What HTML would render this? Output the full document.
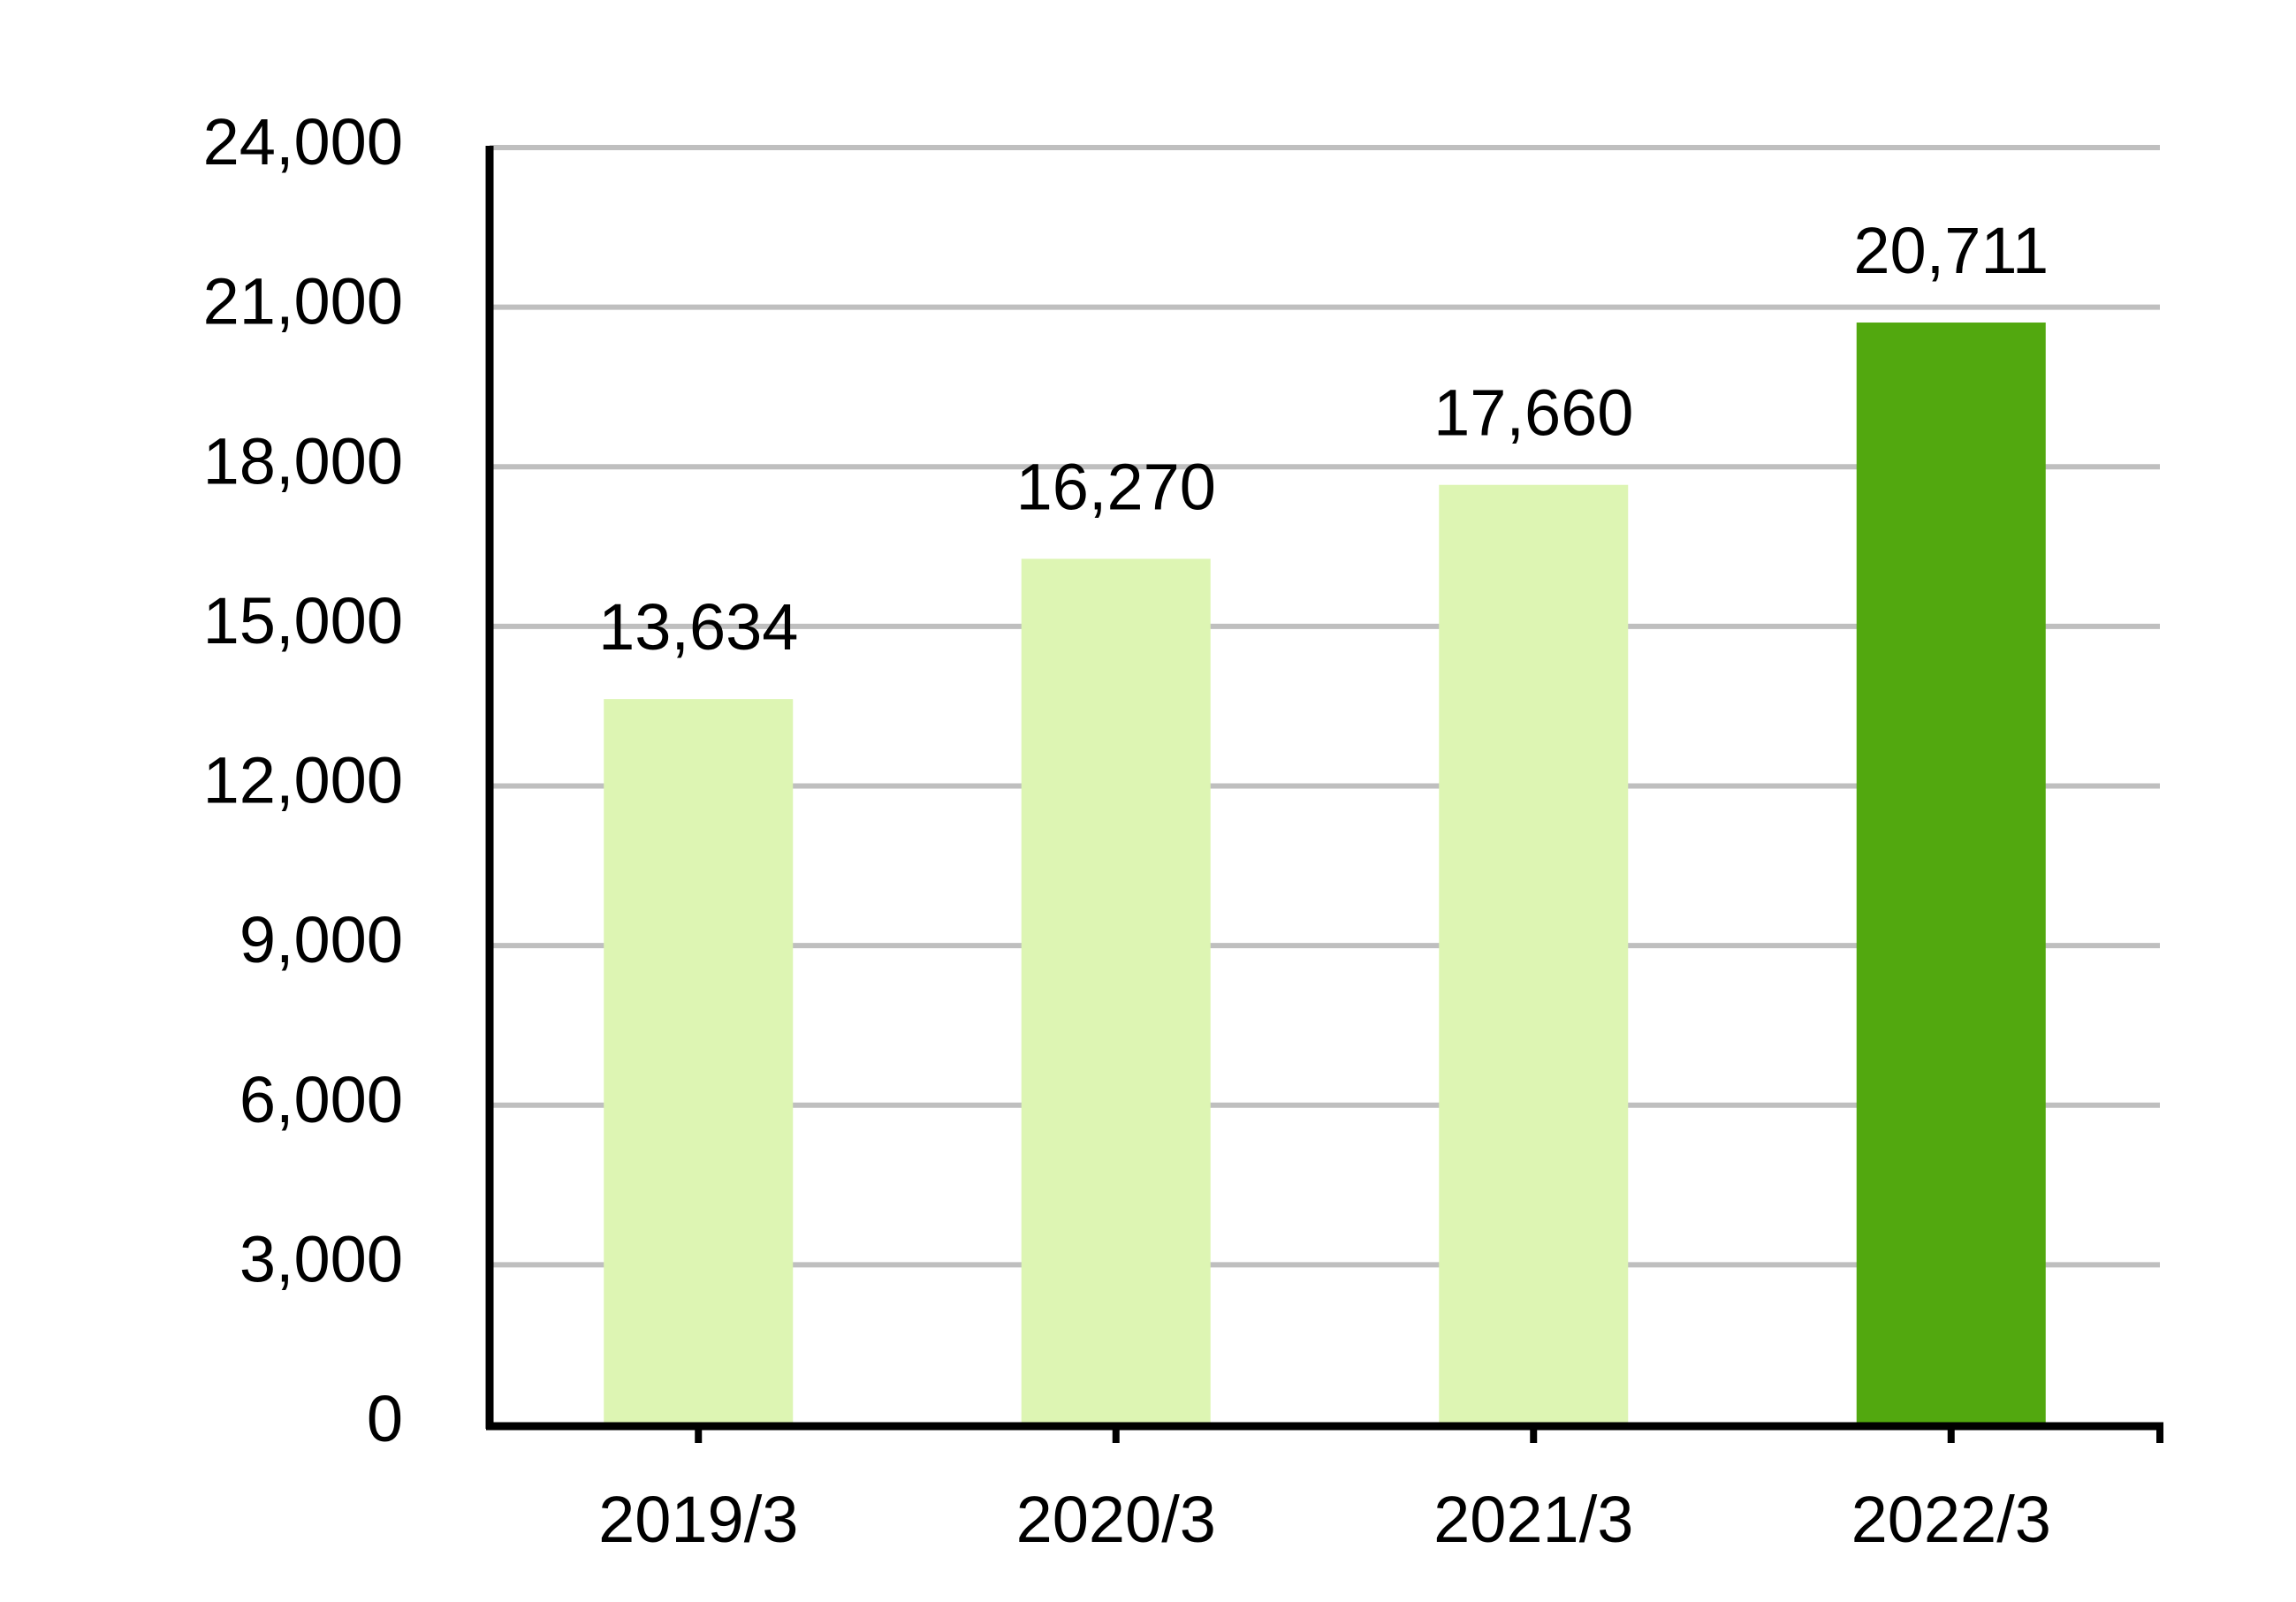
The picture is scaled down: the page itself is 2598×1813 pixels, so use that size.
<!DOCTYPE html>
<html><head><meta charset="utf-8"><style>html,body{margin:0;padding:0;background:#fff}svg{display:block}</style></head>
<body>
<svg width="2598" height="1813" viewBox="0 0 2598 1813" font-family="'Liberation Sans', sans-serif">
<g id="grid"></g>
<g id="bars"></g>
<g id="axes"></g>
<g id="ylabels"></g>
<g id="xlabels"></g>
<g id="vlabels"></g>
</svg>
<script>
const categories = ["2019/3", "2020/3", "2021/3", "2022/3"];
const values = [13634, 16270, 17660, 20711];
const yTicks = [0, 3000, 6000, 9000, 12000, 15000, 18000, 21000, 24000];
const yTickLabels = ["0", "3,000", "6,000", "9,000", "12,000", "15,000", "18,000", "21,000", "24,000"];
const valueLabels = ["13,634", "16,270", "17,660", "20,711"];

const NS = "http://www.w3.org/2000/svg";
const X0 = 554, X1 = 2444, Y0 = 1612, Y1 = 167, YMAX = 24000;
const band = (X1 - X0) / categories.length;
function yScale(v){ return Y0 - (v / YMAX) * (Y0 - Y1); }
function xCenter(i){ return X0 + band * (i + 0.5); }
function mk(tag, attrs, parent){ const e = document.createElementNS(NS, tag); for (const k in attrs) e.setAttribute(k, attrs[k]); parent.appendChild(e); return e; }

const grid = document.getElementById('grid');
yTicks.forEach((t, i) => {
  if (t === 0) return;
  const l = mk('line', {x1: X0, x2: X1, y1: yScale(t), y2: yScale(t), stroke: '#bfbfbf', 'stroke-width': 6}, grid);
  
  
});

const bars = document.getElementById('bars');
const bw = 214;
values.forEach((v, i) => {
  const r = mk('rect', {x: xCenter(i) - bw / 2, y: yScale(v), width: bw, height: yScale(0) - yScale(v), fill: i === values.length - 1 ? '#52a80f' : '#ddf5b3'}, bars);
  
  
});

const axes = document.getElementById('axes');
const ya = mk('line', {x1: X0, x2: X0, y1: Y1 - 2, y2: Y0 + 5, stroke: '#000', 'stroke-width': 9}, axes);


const xa = mk('line', {x1: X0 - 4, x2: X1 + 4, y1: Y0 + 2, y2: Y0 + 2, stroke: '#000', 'stroke-width': 9}, axes);


categories.forEach((c, i) => {
  const t = mk('line', {x1: xCenter(i), x2: xCenter(i), y1: Y0, y2: 1633, stroke: '#000', 'stroke-width': 8}, axes);
  
  
});
const te = mk('line', {x1: X1, x2: X1, y1: Y0, y2: 1633, stroke: '#000', 'stroke-width': 8}, axes);



const yl = document.getElementById('ylabels');
yTicks.forEach((t, i) => {
  const e = mk('text', {x: 456, y: yScale(t) + 19, 'text-anchor': 'end', 'font-size': 74, fill: '#000'}, yl);
  e.textContent = yTickLabels[i];
  
  
});

const xl = document.getElementById('xlabels');
categories.forEach((c, i) => {
  const e = mk('text', {x: xCenter(i), y: 1745, 'text-anchor': 'middle', 'font-size': 74, fill: '#000'}, xl);
  e.textContent = c;
  
  
});

const vl = document.getElementById('vlabels');
values.forEach((v, i) => {
  const e = mk('text', {x: xCenter(i), y: yScale(v) - 56, 'text-anchor': 'middle', 'font-size': 74, fill: '#000'}, vl);
  e.textContent = valueLabels[i];
  
  
});
</script>
</body></html>
